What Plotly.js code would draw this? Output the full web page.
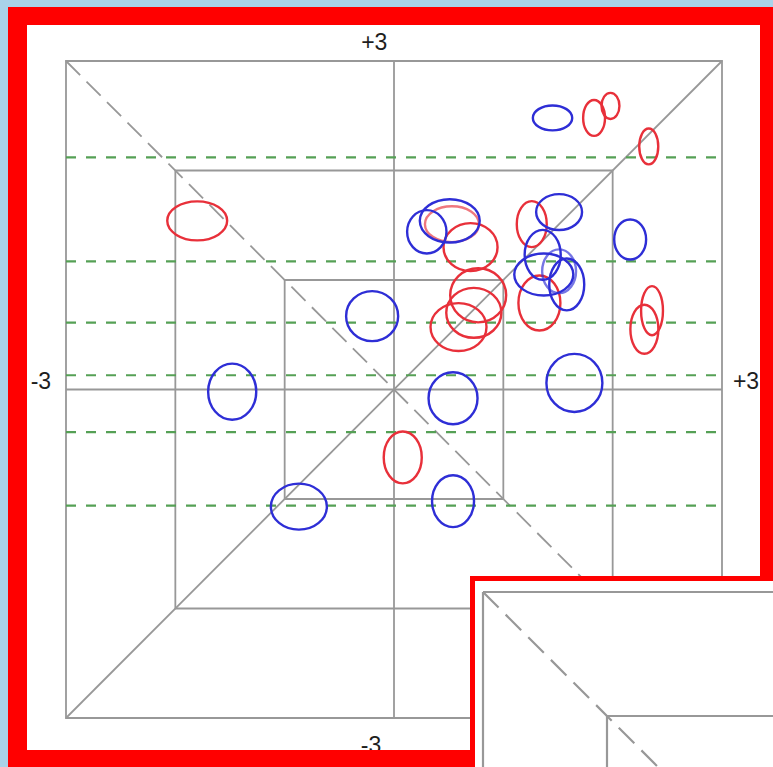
<!DOCTYPE html>
<html>
<head>
<meta charset="utf-8">
<script src="https://cdn.plot.ly/plotly-3.0.1.min.js"></script>
<style>html,body{margin:0;padding:0;background:#a9d3e9;}#chart{width:773px;height:767px;}</style>
</head>
<body>
<div id="chart"></div>
<script>
// ---- data ----
const squareSizes = [1, 2, 3];
const greenLevels = [2.12, 1.17, 0.61, 0.13, -0.39, -1.06];
const axisLabels = ['+3', '-3', '+3', '-3']; // top, left, right, bottom

const redCx = [-1.80, 0.08, 1.83, 1.98, 2.33, 0.53, 0.70, 0.77, 0.73, 0.59, 1.26, 1.33, 2.36, 2.29];
const redCy = [1.54, -0.62, 2.48, 2.59, 2.22, 1.51, 1.30, 0.86, 0.70, 0.57, 1.51, 0.79, 0.72, 0.55];
const redRx = [0.274, 0.174, 0.100, 0.082, 0.087, 0.247, 0.247, 0.256, 0.252, 0.256, 0.137, 0.192, 0.100, 0.128];
const redRy = [0.178, 0.237, 0.164, 0.119, 0.164, 0.164, 0.219, 0.247, 0.228, 0.219, 0.210, 0.251, 0.224, 0.224];
const redPale = [0, 0, 0, 0, 0, 1, 0, 0, 0, 0, 0, 0, 0, 0];

const blueCx = [-0.20, -1.48, 0.54, 1.65, -0.87, 0.54, 1.45, 0.30, 0.51, 1.51, 1.36, 1.37, 1.51, 1.58, 2.16];
const blueCy = [0.67, -0.02, -0.08, 0.06, -1.07, -1.02, 2.48, 1.44, 1.54, 1.62, 1.23, 1.05, 1.08, 0.96, 1.37];
const blueRx = [0.238, 0.220, 0.224, 0.256, 0.256, 0.192, 0.180, 0.180, 0.274, 0.210, 0.165, 0.270, 0.155, 0.160, 0.146];
const blueRy = [0.228, 0.256, 0.237, 0.265, 0.210, 0.237, 0.114, 0.198, 0.198, 0.164, 0.228, 0.192, 0.200, 0.237, 0.183];
const bluePale = [0, 0, 0, 0, 0, 0, 0, 0, 0, 0, 0, 0, 1, 0, 0];

// ---- styles / layout helpers ----
const W = 773, H = 767;
const px = v => v / W;           // pixel -> paper x (decoration only)
const py = v => 1 - v / H;       // pixel -> paper y (decoration only)
const FRAME_RED = '#ff0000';
const GRAY = '#989898';
const GREEN = '#55a055';
const RED = '#e8303a';
const BLUE = '#2e2ed6';

const shapes = [];
// frame background (below)
shapes.push({type:'rect', xref:'paper', yref:'paper', layer:'below', x0:px(8), x1:px(820), y0:py(820), y1:py(7), fillcolor:FRAME_RED, line:{width:0}});
shapes.push({type:'rect', xref:'paper', yref:'paper', layer:'below', x0:px(27), x1:px(760), y0:py(750), y1:py(25), fillcolor:'#ffffff', line:{width:0}});

const gline = {color:GRAY, width:1.8};
// squares
squareSizes.forEach(s => shapes.push({type:'rect', xref:'x', yref:'y', layer:'above', x0:-s, x1:s, y0:-s, y1:s, line:gline}));
const R = squareSizes[squareSizes.length-1];
shapes.push({type:'line', xref:'x', yref:'y', layer:'above', x0:0, x1:0, y0:-R, y1:R, line:gline});
shapes.push({type:'line', xref:'x', yref:'y', layer:'above', x0:-R, x1:R, y0:0, y1:0, line:gline});
shapes.push({type:'line', xref:'x', yref:'y', layer:'above', x0:-R, x1:R, y0:-R, y1:R, line:gline});
shapes.push({type:'line', xref:'x', yref:'y', layer:'above', x0:-R, x1:R, y0:R, y1:-R, line:{color:GRAY, width:1.8, dash:'20px,9px'}});
// green dashed levels
greenLevels.forEach(g => shapes.push({type:'line', xref:'x', yref:'y', layer:'above', x0:-R, x1:R, y0:g, y1:g, line:{color:GREEN, width:2.2, dash:'10px,10px'}}));
// ellipses
redCx.forEach((c, i) => shapes.push({type:'circle', xref:'x', yref:'y', layer:'above',
  x0:c - redRx[i], x1:c + redRx[i], y0:redCy[i] - redRy[i], y1:redCy[i] + redRy[i],
  opacity: redPale[i] ? 0.65 : 1, line:{color:RED, width:2.4}}));
blueCx.forEach((c, i) => shapes.push({type:'circle', xref:'x', yref:'y', layer:'above',
  x0:c - blueRx[i], x1:c + blueRx[i], y0:blueCy[i] - blueRy[i], y1:blueCy[i] + blueRy[i],
  opacity: bluePale[i] ? 0.65 : 1, line:{color:BLUE, width:2.4}}));
// frame strips over labels
shapes.push({type:'rect', xref:'paper', yref:'paper', layer:'above', x0:px(8), x1:px(820), y0:py(820), y1:py(750), fillcolor:FRAME_RED, line:{width:0}});
shapes.push({type:'rect', xref:'paper', yref:'paper', layer:'above', x0:px(760), x1:px(820), y0:py(820), y1:py(7), fillcolor:FRAME_RED, line:{width:0}});
shapes.push({type:'rect', xref:'paper', yref:'paper', layer:'above', x0:px(8), x1:px(27), y0:py(820), y1:py(7), fillcolor:FRAME_RED, line:{width:0}});
// inset (zoomed copy, bottom-right)
const iline = {color:GRAY, width:2.2};
shapes.push({type:'rect', xref:'paper', yref:'paper', layer:'above', x0:px(470), x1:px(900), y0:py(900), y1:py(576), fillcolor:FRAME_RED, line:{width:0}});
shapes.push({type:'rect', xref:'paper', yref:'paper', layer:'above', x0:px(475), x1:px(900), y0:py(900), y1:py(581), fillcolor:'#ffffff', line:{width:0}});
shapes.push({type:'line', xref:'paper', yref:'paper', layer:'above', x0:px(483), x1:px(900), y0:py(592), y1:py(592), line:iline});
shapes.push({type:'line', xref:'paper', yref:'paper', layer:'above', x0:px(483), x1:px(483), y0:py(592), y1:py(900), line:iline});
shapes.push({type:'line', xref:'paper', yref:'paper', layer:'above', x0:px(607), x1:px(900), y0:py(716), y1:py(716), line:iline});
shapes.push({type:'line', xref:'paper', yref:'paper', layer:'above', x0:px(607), x1:px(607), y0:py(716), y1:py(900), line:iline});
shapes.push({type:'line', xref:'paper', yref:'paper', layer:'above', x0:px(483), x1:px(783), y0:py(592), y1:py(892), line:{color:GRAY, width:2.2, dash:'22px,10px'}});

// label trace (text marks, covered partly by the frame)
const labelTrace = {
  type:'scatter', mode:'text', x:[-0.18, -3.23, 3.22, -0.21], y:[3.15, 0.06, 0.06, -3.27],
  text:axisLabels, textposition:'middle center', cliponaxis:false, hoverinfo:'skip', showlegend:false,
  textfont:{family:'Liberation Sans, Arial, sans-serif', size:23, color:'#1e1e1e'}
};

const layout = {
  width:W, height:H, margin:{l:0, r:0, t:0, b:0},
  paper_bgcolor:'#a9d3e9', plot_bgcolor:'rgba(0,0,0,0)',
  xaxis:{range:[-3.6037, 3.4665], visible:false, fixedrange:true},
  yaxis:{range:[-3.4475, 3.5571], visible:false, fixedrange:true},
  shapes:shapes, showlegend:false
};
Plotly.newPlot('chart', [labelTrace], layout, {staticPlot:true});
</script>
</body>
</html>
